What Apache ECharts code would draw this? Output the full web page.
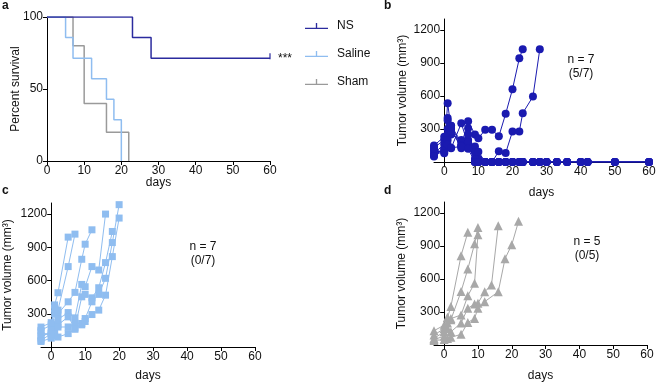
<!DOCTYPE html>
<html>
<head>
<meta charset="utf-8">
<script src="https://cdn.jsdelivr.net/npm/echarts@6/dist/echarts.min.js"></script>
<style>
  html, body { margin: 0; padding: 0; background: #fff; }
  #main { width: 656px; height: 382px; }
</style>
</head>
<body>
<div id="main"></div>
<script>
var FONT = 'Liberation Sans, Arial, sans-serif';

// panel a - survival (%)
var nsSurvDays = [0, 23, 28, 60];
var nsSurv = [100, 85.7, 71.4, 71.4];
var salineSurvDays = [0, 5, 7, 12, 16, 18, 20];
var salineSurv = [100, 85.7, 71.4, 57.1, 42.9, 28.6, 0];
var shamSurvDays = [0, 7, 10, 16, 22];
var shamSurv = [100, 80, 40, 20, 0];

// panel b - NS tumor volume
var nsDays = [-3, 0, 1, 2, 5, 7, 9, 10, 12, 14, 16, 18, 20, 22, 23, 26, 28, 30, 33, 36, 40, 42, 50, 60];
var nsMice = [
    [130, 200, 400, 330, 150, 370, 250, 215, 293, 293, 233, 438, 662, 943, 1025],
    [80, 160, 300, 250, 200, 200, 140, 30, 0, 0, 97, 82, 278, 278, 444, 595, 1025],
    [100, 90, 535, 300, 125, 306, 0, 0, 0, 0, 0, 0, 0, 0, 0, 0, 0, 0, 0, 0, 0, 0, 0, 0],
    [60, 120, 380, 124, 352, 155, 30, 0, 0, 0, 0, 0, 0, 0, 0, 0, 0, 0, 0, 0, 0, 0, 0, 0],
    [150, 230, 250, 330, 180, 250, 90, 94, 0, 0, 0, 0, 0, 0, 0, 0, 0, 0, 0, 0, 0, 0, 0, 0],
    [50, 110, 200, 280, 150, 180, 0, 0, 0, 0, 0, 0, 0, 0, 0, 0, 0, 0, 0, 0, 0, 0, 0, 0],
    [120, 80, 160, 130, 140, 120, 0, 0, 0, 0, 0, 0, 0, 0, 0, 0, 0, 0, 0, 0, 0, 0, 0, 0]
];

// panel c - Saline tumor volume
var salineDays = [-3, 0, 1, 2, 5, 7, 9, 10, 12, 14, 16, 18, 20];
var salineMice = [
    [150, 200, 380, 490, 992],
    [100, 130, 300, 333, 726, 1019],
    [180, 220, 350, 300, 408, 493, 792, 928, 1058],
    [60, 120, 200, 250, 311, 263, 565, 544, 726, 695, 1200],
    [136, 100, 150, 200, 272, 172, 453, 475, 444, 535, 762, 1043],
    [80, 150, 100, 180, 181, 215, 212, 257, 408, 475, 620, 943, 1285],
    [50, 80, 120, 90, 121, 160, 200, 230, 293, 333, 468, 816, 1164]
];

// panel d - Sham tumor volume
var shamDays = [-3, 0, 1, 2, 5, 7, 9, 10, 12, 14, 16, 18, 20, 22];
var shamMice = [
    [130, 180, 250, 350, 811, 1024],
    [90, 150, 200, 230, 486, 690, 920, 1069],
    [60, 120, 250, 240, 273, 447, 562, 1003],
    [50, 80, 150, 120, 200, 334, 372, 380, 484, 545, 1085],
    [40, 50, 60, 70, 97, 204, 242, 333, 394, null, 484, 784, 911, 1124]
];

var dayTicks = [0, 10, 20, 30, 40, 50, 60];
var volTicks = [0, 300, 600, 900, 1200];
var volLabels = [300, 600, 900, 1200];

var NS_COLOR = '#1a1ab0';
var NS_LINE = '#2b2b9e';
var SALINE_COLOR = '#8fbdf0';
var SHAM_COLOR = '#a8a8a8';

function pairs(days, vals) {
    var out = [];
    for (var i = 0; i < vals.length; i++) {
        out.push([days[i], vals[i]]);
    }
    return out;
}

function plain(v) { return String(v); }

var axisCommon = {
    nameMoveOverlap: false,
    axisLine: { lineStyle: { color: '#000', width: 1 } },
    axisTick: { length: 4, lineStyle: { color: '#000' } },
    axisLabel: { color: '#111', fontSize: 12, fontFamily: FONT, margin: 4, formatter: plain },
    splitLine: { show: false },
    nameTextStyle: { color: '#111', fontSize: 12, fontFamily: FONT }
};

function xDays(gridIndex, gap) {
    return echarts.util.merge({
        type: 'value', gridIndex: gridIndex, min: -3, max: 60,
        name: 'days', nameLocation: 'middle', nameGap: gap,
        axisTick: { customValues: dayTicks },
        axisLabel: { customValues: dayTicks }
    }, axisCommon, false);
}

// y axis sits at day 0, i.e. 3 days right of the grid edge
function yVolume(gridIndex, gap, shift) {
    return echarts.util.merge({
        type: 'value', gridIndex: gridIndex, min: 0, max: 1300,
        name: 'Tumor volume (mm³)', nameLocation: 'middle', nameGap: gap,
        offset: -shift,
        axisTick: { customValues: volTicks },
        axisLabel: { customValues: volLabels }
    }, axisCommon, false);
}

var tickIcon = 'path://M0,7H24V8.4H0Z M11.3,2H12.7V7H11.3Z';

var series = [];

series.push({
    name: 'NS', type: 'line', step: 'end', xAxisIndex: 0, yAxisIndex: 0,
    symbol: 'none', color: NS_LINE, lineStyle: { width: 1.5, color: NS_LINE },
    data: pairs(nsSurvDays, nsSurv), z: 5
});
series.push({
    name: 'Saline', type: 'line', step: 'end', xAxisIndex: 0, yAxisIndex: 0,
    symbol: 'none', color: SALINE_COLOR, lineStyle: { width: 1.5, color: SALINE_COLOR },
    data: pairs(salineSurvDays, salineSurv), z: 4
});
series.push({
    name: 'Sham', type: 'line', step: 'end', xAxisIndex: 0, yAxisIndex: 0,
    symbol: 'none', color: '#9a9a9a', lineStyle: { width: 1.5, color: '#9a9a9a' },
    data: pairs(shamSurvDays, shamSurv), z: 3
});
// censor tick on NS at the end of follow up
series.push({
    type: 'scatter', xAxisIndex: 0, yAxisIndex: 0,
    symbol: 'rect', symbolSize: [1.5, 6], symbolOffset: [0, -2],
    itemStyle: { color: NS_LINE },
    data: [[nsSurvDays[nsSurvDays.length - 1], nsSurv[nsSurv.length - 1]]]
});

nsMice.forEach(function (m) {
    series.push({
        type: 'line', xAxisIndex: 1, yAxisIndex: 1,
        symbol: 'circle', symbolSize: 8, connectNulls: true,
        itemStyle: { color: NS_COLOR }, lineStyle: { width: 1, color: NS_COLOR },
        data: pairs(nsDays, m)
    });
});
salineMice.forEach(function (m) {
    series.push({
        type: 'line', xAxisIndex: 2, yAxisIndex: 2,
        symbol: 'rect', symbolSize: 7, connectNulls: true,
        itemStyle: { color: SALINE_COLOR }, lineStyle: { width: 1, color: SALINE_COLOR },
        data: pairs(salineDays, m)
    });
});
shamMice.forEach(function (m) {
    series.push({
        type: 'line', xAxisIndex: 3, yAxisIndex: 3,
        symbol: 'triangle', symbolSize: 9, connectNulls: true,
        itemStyle: { color: SHAM_COLOR }, lineStyle: { width: 1, color: SHAM_COLOR },
        data: pairs(shamDays, m)
    });
});

function label(text, x, y, bold) {
    return {
        type: 'text', left: x, top: y,
        style: { text: text, fill: '#111', fontSize: 12, fontFamily: FONT,
                 fontWeight: bold ? 'bold' : 'normal' }
    };
}
function centerText(text, x, y) {
    return {
        type: 'text', x: x, y: y,
        style: { text: text, fill: '#111', fontSize: 12, fontFamily: FONT,
                 align: 'center', verticalAlign: 'middle', lineHeight: 14 }
    };
}

var option = {
    animation: false,
    backgroundColor: '#fff',
    textStyle: { fontFamily: FONT },
    grid: [
        { left: 47, top: 17, width: 223, height: 144, outerBoundsMode: 'none' },
        { left: 434, top: 19, width: 215, height: 143, outerBoundsMode: 'none' },
        { left: 41, top: 203, width: 214, height: 144, outerBoundsMode: 'none' },
        { left: 434, top: 202, width: 213, height: 143, outerBoundsMode: 'none' }
    ],
    xAxis: [
        echarts.util.merge({
            type: 'value', gridIndex: 0, min: 0, max: 60, interval: 10,
            name: 'days', nameLocation: 'middle', nameGap: 16
        }, axisCommon, false),
        xDays(1, 25),
        xDays(2, 23),
        xDays(3, 25)
    ],
    yAxis: [
        echarts.util.merge({
            type: 'value', gridIndex: 0, min: 0, max: 100, interval: 50,
            name: 'Percent survival', nameLocation: 'middle', nameGap: 25
        }, axisCommon, false),
        yVolume(1, 36, 10.2),
        yVolume(2, 38, 10.2),
        yVolume(3, 36, 10.1)
    ],
    legend: {
        orient: 'vertical', left: 305, top: 20, padding: 0,
        itemWidth: 23, itemHeight: 8, itemGap: 16,
        textStyle: { color: '#111', fontSize: 12, fontFamily: FONT, padding: [0, 0, 0, 4] },
        data: [
            { name: 'NS', icon: tickIcon },
            { name: 'Saline', icon: tickIcon },
            { name: 'Sham', icon: tickIcon }
        ]
    },
    graphic: [
        label('a', 2, 0, true),
        label('b', 384, 0, true),
        label('c', 2, 185, true),
        label('d', 384, 185, true),
        label('***', 278, 53, false),
        centerText('n = 7\n(5/7)', 581, 67),
        centerText('n = 7\n(0/7)', 203, 254),
        centerText('n = 5\n(0/5)', 587, 249)
    ],
    series: series
};

var chart = echarts.init(document.getElementById('main'));
chart.setOption(option);
</script>
</body>
</html>
